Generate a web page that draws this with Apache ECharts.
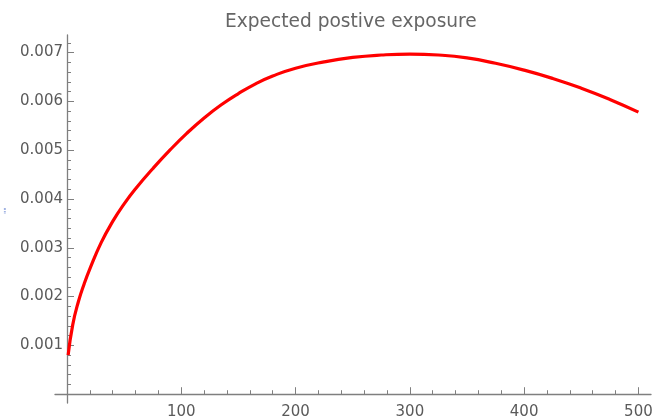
<!DOCTYPE html>
<html><head><meta charset="utf-8">
<script src="https://cdn.jsdelivr.net/npm/echarts@6/dist/echarts.min.js"></script>
<style>html,body{margin:0;padding:0;background:#fff}#c{width:666px;height:419px}</style>
</head><body><div id="c"></div>
<script>
const xValues = [1,5,10,15,20,30,40,50,60,75,90,105,120,135,150,165,180,200,225,250,275,300,325,350,375,400,425,450,475,500];
const eeValues = [0.0008,0.00142,0.0019,0.00226,0.00257,0.00311,0.00354,0.0039,0.00421,0.00462,0.005,0.00535,0.00566,0.00593,0.00616,0.00636,0.00652,0.00668,0.00681,0.0069,0.00695,0.00697,0.00695,0.00689,0.00678,0.00664,0.00647,0.00627,0.00604,0.00578];
const xTickLabels = [100,200,300,400,500];
const yTickLabels = [0.001,0.002,0.003,0.004,0.005,0.006,0.007];
const xMinorTicks = [20,40,60,80,120,140,160,180,220,240,260,280,320,340,360,380,420,440,460,480];
const yMinorTicks = [0.0002,0.0004,0.0006,0.0008,0.0012,0.0014,0.0016,0.0018,0.0022,0.0024,0.0026,0.0028,0.0032,0.0034,0.0036,0.0038,0.0042,0.0044,0.0046,0.0048,0.0052,0.0054,0.0056,0.0058,0.0062,0.0064,0.0066,0.0068,0.0072];
const title = 'Expected postive exposure';
const yAxisTitle = '""';

const axisColor = '#7f7f7f';
const labelColor = '#5a5a5a';
const font = 'DejaVu Sans, Verdana, sans-serif';
const xMin = -10.5, xMax = 511, yMin = -0.00018, yMax = 0.00736;

const chart = echarts.init(document.getElementById('c'));
chart.setOption({
  animation: false,
  title: { text: title, left: 225, top: 13, padding: 0, textStyle: { color: '#666', fontSize: 18.6, fontWeight: 'normal', fontFamily: font } },
  graphic: [{ type: 'text', x: 4, y: 214, rotation: Math.PI / 2,
    style: { text: yAxisTitle, fill: '#4a6cc8', fontSize: 7, fontFamily: font } }],
  grid: { left: 55, right: 15, top: 35, bottom: 16, containLabel: false, outerBoundsMode: 'none' },
  xAxis: [
    { type: 'value', min: xMin, max: xMax, splitLine: { show: false },
      axisLine: { onZero: true, lineStyle: { color: axisColor, width: 1.3 } },
      axisTick: { inside: true, length: 7, customValues: xTickLabels, lineStyle: { color: axisColor } },
      axisLabel: { customValues: xTickLabels, color: labelColor, fontSize: 15, margin: 2, fontFamily: font } },
    { type: 'value', min: xMin, max: xMax, position: 'bottom', splitLine: { show: false },
      axisLine: { show: false, onZero: true },
      axisTick: { inside: true, length: 4, customValues: xMinorTicks, lineStyle: { color: axisColor } },
      axisLabel: { show: false } }
  ],
  yAxis: [
    { type: 'value', min: yMin, max: yMax, splitLine: { show: false },
      axisLine: { onZero: true, lineStyle: { color: axisColor, width: 1.3 } },
      axisTick: { inside: true, length: 7, customValues: yTickLabels, lineStyle: { color: axisColor } },
      axisLabel: { customValues: yTickLabels, color: labelColor, fontSize: 15, margin: -8, fontFamily: font, formatter: v => v.toFixed(3) } },
    { type: 'value', min: yMin, max: yMax, position: 'left', splitLine: { show: false },
      axisLine: { show: false, onZero: true },
      axisTick: { inside: true, length: 4, customValues: yMinorTicks, lineStyle: { color: axisColor } },
      axisLabel: { show: false } }
  ],
  series: [{
    type: 'line', xAxisIndex: 0, yAxisIndex: 0, smooth: true, showSymbol: false,
    lineStyle: { color: '#ff0000', width: 3.2 },
    data: xValues.map((x, i) => [x, eeValues[i]])
  }]
});
</script></body></html>
